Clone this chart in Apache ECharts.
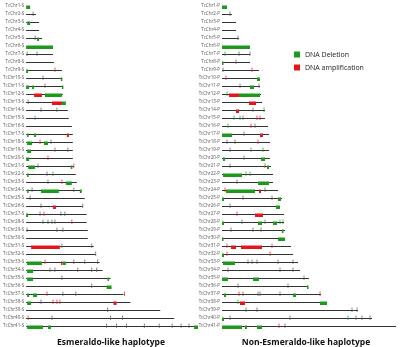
<!DOCTYPE html>
<html><head><meta charset="utf-8">
<script src="https://cdn.jsdelivr.net/npm/echarts@6/dist/echarts.min.js"></script>
<style>html,body{margin:0;padding:0;background:#fff}#c{width:400px;height:347px}</style>
</head><body><div id="c"></div>
<script>
// ---- DATA (positions in chart length units) ----
const chrS = []; const chrP = [];
for (let i = 1; i <= 41; i++) { chrS.push('TcChr' + i + '-S'); chrP.push('TcChr' + i + '-P'); }

const lengthS = [4,10,13,13,16,27,27,28,36,36,37,37,39,42,43,46,47,47,47,47,48,50,51,55,59,57,61,61,62,62,68,70,74,77,85,85,98,105,135,149,173];
const lengthP = [5,10,14,14,17,28,28,28,37,38,38,39,40,43,43,46,47,48,47,48,49,51,51,56,60,58,62,62,63,63,69,71,76,78,87,86,99,105,136,150,174];

// [chromosome number, start, end]
const deletionS = [[1,0,4],[3,1,4],[5,11,13],[6,0,27],[9,0,2],[10,35,36],[11,0,3],[11,6,8],[11,36,37],[12,19,36],[13,36,40],
  [17,1,2],[17,8,10],[18,1,6],[18,18,22],[19,1,5],[20,0,3],[21,2,9],[21,45,46],[22,1,2],[23,40,46],[24,1,2],[24,15,33],[24,54,56],
  [27,0,2],[33,1,16],[33,37,40],[34,1,7],[35,1,7],[35,82,83],[36,81,86],[37,1,3],[37,7,11],[38,1,5],[41,1,17],[41,22,25],[41,169,173]];
const amplificationS = [[12,8,16],[13,26,36],[17,41,43],[26,27,30],[31,5,34],[33,35,36],[38,88,91]];
const deletionP = [[1,0,5],[6,0,28],[8,0,1],[10,35,38],[11,28,32],[12,17,38],[17,0,10],[20,1,3],[20,39,43],[21,45,47],[22,1,20],
  [23,36,47],[24,4,33],[25,0,2],[25,56,59],[26,54,58],[28,0,2],[28,36,40],[28,51,55],[29,60,61],[30,0,1],[30,56,63],[32,0,2],
  [33,1,13],[35,0,6],[35,31,37],[36,85,86],[37,2,4],[37,71,74],[38,98,105],[40,0,2],[41,0,20],[41,23,25],[41,35,40]];
const amplificationP = [[12,7,17],[13,27,34],[14,14,17],[17,38,41],[24,37,39],[27,33,41],[31,9,14],[31,19,40],[38,18,23]];

// small markers: [chromosome number, position, kind] kind: 'o' other, 'd' deletion, 'a' amplification
const markS = [[2,7,'o'],[5,9,'o'],[7,1,'o'],[7,11,'o'],[9,29,'a'],[10,17,'o'],[11,19,'o'],[13,2,'o'],[14,15,'o'],[14,31,'o'],[15,9,'d'],
  [18,14,'a'],[18,25,'o'],[19,29,'o'],[19,42,'o'],[20,22,'a'],[21,12,'o'],[21,48,'a'],[22,21,'o'],[22,27,'d'],[23,22,'o'],[23,36,'a'],
  [24,6,'o'],[24,48,'o'],[25,4,'o'],[26,15,'o'],[26,57,'o'],[27,14,'o'],[27,18,'a'],[27,35,'o'],[27,39,'o'],[28,17,'o'],[28,22,'o'],
  [28,26,'o'],[28,29,'o'],[28,46,'a'],[29,1,'o'],[29,31,'o'],[29,37,'o'],[31,36,'o'],[31,66,'o'],[32,70,'o'],[33,19,'a'],[33,48,'o'],
  [33,59,'o'],[33,72,'o'],[34,24,'o'],[34,29,'o'],[34,52,'o'],[34,66,'o'],[34,71,'o'],[35,36,'o'],[36,66,'o'],[37,21,'a'],[37,37,'o'],
  [37,50,'o'],[37,99,'a'],[38,15,'o'],[38,27,'a'],[38,31,'a'],[38,34,'a'],[39,82,'o'],[40,2,'a'],[40,26,'o'],[40,85,'o'],[40,97,'o'],
  [41,81,'o'],[41,91,'o'],[41,101,'o'],[41,119,'o'],[41,134,'o'],[41,147,'o'],[41,156,'o'],[41,164,'o']];
const markP = [[2,8,'o'],[5,16,'o'],[7,3,'d'],[7,17,'o'],[7,28,'o'],[8,14,'o'],[9,1,'o'],[9,30,'a'],[10,4,'a'],[11,18,'o'],[11,37,'o'],
  [12,5,'d'],[14,31,'o'],[14,42,'d'],[15,12,'d'],[15,18,'d'],[15,21,'o'],[15,35,'a'],[15,38,'a'],[16,6,'d'],[16,29,'a'],[16,33,'o'],
  [17,22,'o'],[18,5,'o'],[18,13,'o'],[18,36,'a'],[19,8,'o'],[19,29,'d'],[19,41,'d'],[20,22,'o'],[21,8,'o'],[21,43,'a'],[22,24,'d'],
  [22,28,'d'],[23,15,'o'],[24,3,'a'],[24,43,'o'],[25,21,'o'],[25,50,'o'],[26,8,'o'],[27,15,'a'],[28,20,'o'],[28,43,'d'],[28,58,'d'],
  [28,61,'d'],[29,9,'o'],[29,31,'o'],[29,39,'o'],[31,5,'a'],[31,50,'a'],[32,5,'a'],[32,48,'a'],[33,26,'o'],[33,30,'o'],[33,35,'o'],
  [33,56,'o'],[33,71,'o'],[34,6,'o'],[34,58,'o'],[34,71,'o'],[35,82,'o'],[36,16,'o'],[36,66,'o'],[37,17,'a'],[37,21,'a'],[37,36,'o'],
  [37,38,'o'],[37,58,'o'],[37,98,'a'],[38,16,'d'],[39,24,'o'],[39,35,'o'],[39,130,'o'],[39,135,'o'],[40,8,'o'],[40,68,'o'],
  [40,126,'d'],[40,134,'o'],[40,140,'o'],[40,148,'o'],[41,57,'a'],[41,63,'o']];

const panelTitles = ['Esmeraldo-like haplotype', 'Non-Esmeraldo-like haplotype'];
const legendNames = ['DNA Deletion', 'DNA amplification'];

// ---- RENDERING ----
const GREEN = '#1c9a1c', RED = '#e5161b', LINE = '#333';
const markColor = { o: '#555', d: GREEN, a: RED };

function lineItem(params, api) {
  const p0 = api.coord([0, api.value(0)]);
  const p1 = api.coord([api.value(1), api.value(0)]);
  const y = Math.round(p0[1]) + 0.5;
  return { type: 'line', shape: { x1: p0[0], y1: y, x2: p1[0], y2: y }, style: { stroke: LINE, lineWidth: 1 } };
}
function blockItem(color) {
  return function (params, api) {
    const p0 = api.coord([api.value(1), api.value(0)]);
    const p1 = api.coord([api.value(2), api.value(0)]);
    const y = Math.round(p0[1]);
    return { type: 'rect', shape: { x: p0[0], y: y - 0.5, width: Math.max(p1[0] - p0[0], 1.5), height: 3.5 }, style: { fill: color } };
  };
}
function markItem(list) {
  return function (params, api) {
    const p = api.coord([api.value(1), api.value(0)]);
    const y = Math.round(p[1]);
    const k = list[params.dataIndex][2];
    return { type: 'line', shape: { x1: p[0], y1: y - 2.5, x2: p[0], y2: y + 2 }, style: { stroke: markColor[k], lineWidth: 0.7 } };
  };
}
const toIdx = arr => arr.map(d => [d[0] - 1, d[1], d[2]]);

const panels = [
  { cats: chrS, len: lengthS, del: deletionS, amp: amplificationS, mark: markS },
  { cats: chrP, len: lengthP, del: deletionP, amp: amplificationP, mark: markP }
];
const grids = [{ left: 25, top: 2, width: 175, height: 328 }, { left: 222, top: 2, width: 175, height: 328 }];
const xAxes = [], yAxes = [], series = [];
panels.forEach((p, i) => {
  xAxes.push({ gridIndex: i, type: 'value', min: 0, max: 175, show: false });
  yAxes.push({ gridIndex: i, type: 'category', data: p.cats, inverse: true,
    axisLine: { show: false }, axisTick: { show: false }, splitLine: { show: false },
    axisLabel: { fontSize: 4.5, color: '#555', margin: 2, fontFamily: 'Open Sans', interval: 0 } });
  series.push({ type: 'custom', name: 'chromosome' + i, xAxisIndex: i, yAxisIndex: i, renderItem: lineItem,
    data: p.len.map((l, j) => [j, l]), silent: true, z: 1 });
  series.push({ type: 'custom', name: legendNames[0], xAxisIndex: i, yAxisIndex: i, renderItem: blockItem(GREEN),
    itemStyle: { color: GREEN }, data: toIdx(p.del), silent: true, z: 2 });
  series.push({ type: 'custom', name: legendNames[1], xAxisIndex: i, yAxisIndex: i, renderItem: blockItem(RED),
    itemStyle: { color: RED }, data: toIdx(p.amp), silent: true, z: 3 });
  series.push({ type: 'custom', name: 'marks' + i, xAxisIndex: i, yAxisIndex: i, renderItem: markItem(p.mark),
    data: p.mark.map(d => [d[0] - 1, d[1]]), silent: true, z: 4 });
});

const chart = echarts.init(document.getElementById('c'), null, { renderer: 'canvas' });
chart.setOption({
  animation: false,
  backgroundColor: '#fff',
  grid: grids, xAxis: xAxes, yAxis: yAxes, series: series,
  legend: { data: legendNames, orient: 'vertical', left: 289, top: 46, itemWidth: 6, itemHeight: 6, itemGap: 6,
    icon: 'rect', selectedMode: false, textStyle: { fontSize: 7, color: '#222', fontFamily: 'Open Sans' } },
  title: [
    { text: panelTitles[0], left: 106, top: 333, textAlign: 'center',
      textStyle: { fontSize: 8.5, fontWeight: 'bold', color: '#111', fontFamily: 'Open Sans' } },
    { text: panelTitles[1], left: 301, top: 333, textAlign: 'center',
      textStyle: { fontSize: 8.5, fontWeight: 'bold', color: '#111', fontFamily: 'Open Sans' } }
  ]
});
</script></body></html>
